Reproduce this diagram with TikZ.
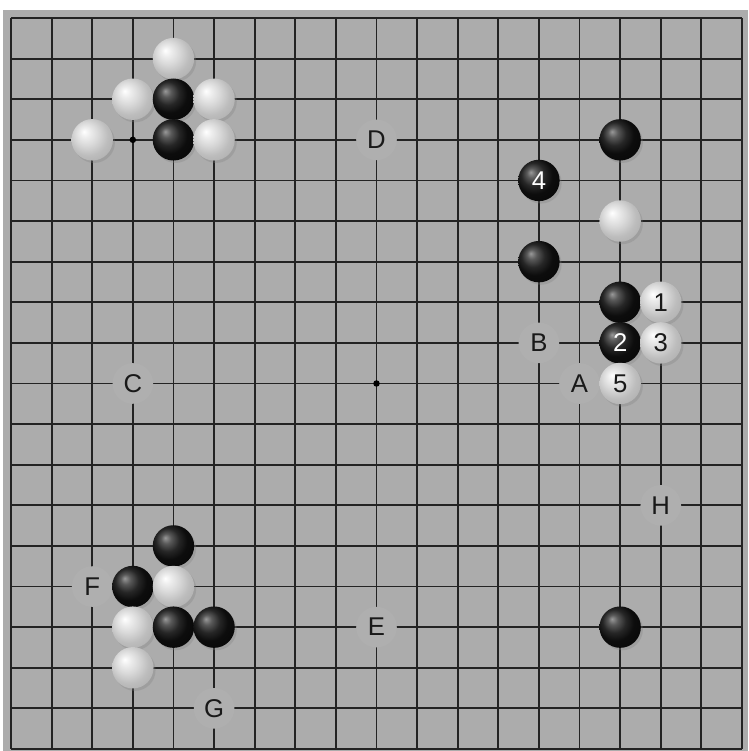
\documentclass[tikz,border=0pt]{standalone}
\usepackage{fontspec}
\setsansfont{Liberation Sans}
\usetikzlibrary{shadows}
\definecolor{boardgray}{RGB}{172,172,172}
\definecolor{gridline}{RGB}{35,35,35}
\pgfdeclareradialshading{blackstone}{\pgfpoint{-10bp}{10bp}}{%
  color(0bp)=(black!40); color(6bp)=(black!65); color(14bp)=(black!85);
  color(22bp)=(black!95); color(50bp)=(black)}
\pgfdeclareradialshading{whitestone}{\pgfpoint{-10bp}{10bp}}{%
  color(0bp)=(white); color(6bp)=(white!93!black); color(14bp)=(white!85!black);
  color(24bp)=(white!74!black); color(50bp)=(white!60!black)}

\begin{document}
\begin{tikzpicture}[
    board/.style={fill=boardgray, draw=none},
    gridlines/.style={draw=gridline, line width=1.3pt},
    hoshi/.style={circle, fill=black, inner sep=0pt, minimum size=0.16cm},
    lbl/.style={
        circle, fill=boardgray!96!white, inner sep=0pt, minimum size=1.0cm,
        font=\sffamily\fontsize{18}{20}\selectfont, text=black!90
    },
    bstone/.style={
        circle, inner sep=0pt, minimum size=1.02cm, shading=blackstone,
        drop shadow={opacity=0.3, shadow xshift=0.05cm, shadow yshift=-0.06cm},
        font=\sffamily\fontsize{18}{20}\selectfont, text=white
    },
    wstone/.style={
        circle, inner sep=0pt, minimum size=1.02cm, shading=whitestone,
        drop shadow={opacity=0.3, shadow xshift=0.05cm, shadow yshift=-0.06cm},
        font=\sffamily\fontsize{18}{20}\selectfont, text=black!90
    },
]

% ── Page and board ───────────────────────────────────────────
\useasboundingbox (-0.271, 0.443) rectangle (18.155, -18.05);
\fill[board] (-0.197, 0.197) rectangle (18.155, -18.05);
\draw[gridlines] (0, 0) grid (18, -18);

% ── Star points ──────────────────────────────────────────────
\node[hoshi] (s33) at (3, -3) {};
\node[hoshi] (s99) at (9, -9) {};

% ── Letter marks ─────────────────────────────────────────────
\node[lbl] (A) at (14, -9)  {A};
\node[lbl] (B) at (13, -8)  {B};
\node[lbl] (C) at (3, -9)   {C};
\node[lbl] (D) at (9, -3)   {D};
\node[lbl] (E) at (9, -15)  {E};
\node[lbl] (F) at (2, -14)  {F};
\node[lbl] (G) at (5, -17)  {G};
\node[lbl] (H) at (16, -12) {H};

% ── Upper left corner ────────────────────────────────────────
\node[wstone] (w41) at (4, -1) {};
\node[wstone] (w32) at (3, -2) {};
\node[bstone] (b42) at (4, -2) {};
\node[wstone] (w52) at (5, -2) {};
\node[wstone] (w23) at (2, -3) {};
\node[bstone] (b43) at (4, -3) {};
\node[wstone] (w53) at (5, -3) {};

% ── Right side ───────────────────────────────────────────────
\node[bstone] (b153) at (15, -3) {};
\node[bstone] (m4)   at (13, -4) {4};
\node[wstone] (w155) at (15, -5) {};
\node[bstone] (b136) at (13, -6) {};
\node[bstone] (b157) at (15, -7) {};
\node[wstone] (m1)   at (16, -7) {1};
\node[bstone] (m2)   at (15, -8) {2};
\node[wstone] (m3)   at (16, -8) {3};
\node[wstone] (m5)   at (15, -9) {5};

% ── Lower left corner ────────────────────────────────────────
\node[bstone] (b413) at (4, -13) {};
\node[bstone] (b314) at (3, -14) {};
\node[wstone] (w414) at (4, -14) {};
\node[wstone] (w315) at (3, -15) {};
\node[bstone] (b415) at (4, -15) {};
\node[bstone] (b515) at (5, -15) {};
\node[wstone] (w316) at (3, -16) {};

% ── Lower right ──────────────────────────────────────────────
\node[bstone] (b1515) at (15, -15) {};

\end{tikzpicture}
\end{document}
